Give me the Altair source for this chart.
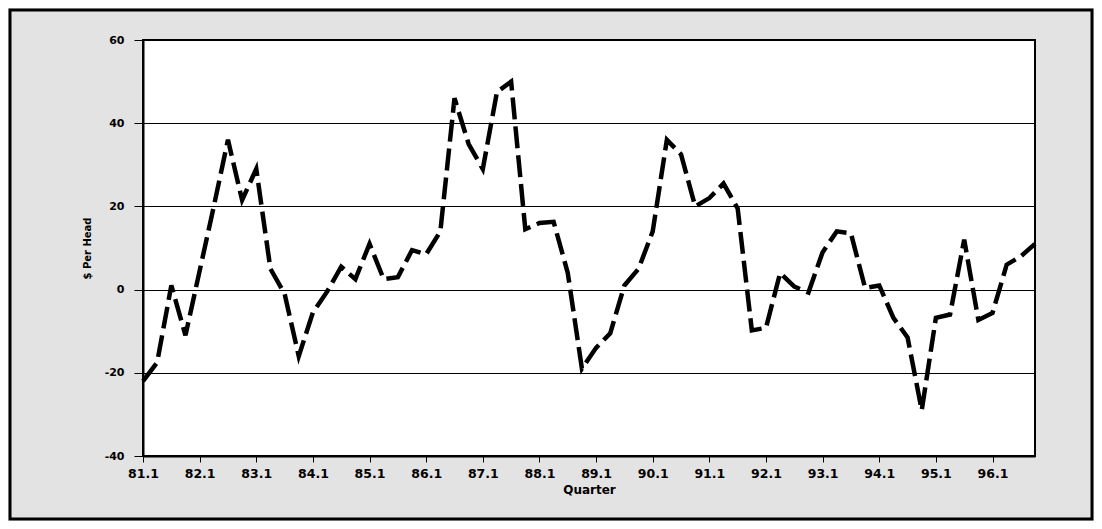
import altair as alt
import pandas as pd

# Quarter labels 81.1 .. 96.4
years = list(range(81, 97))
quarters = [f"{y}.{q}" for y in years for q in range(1, 5)]

values = [
    -22, -17.5, 1, -11, 4.5, 20, 36, 21.5,
    29, 5, -1, -16, -5.5, -0.5, 5.5, 2.5,
    11, 2.5, 3, 9.5, 8.5, 14, 46, 35,
    29, 47.5, 50, 14.5, 16, 16.3, 4, -19,
    -14, -10.5, 1, 5, 14, 36, 32.5, 20,
    22, 25.5, 19.5, -9.8, -9.2, 4, 0.7, -0.7,
    9, 14, 13.5, 0.4, 1, -6.8, -11.5, -29,
    -6.8, -6, 12, -7.3, -5.6, 6, 8, 11,
]

x_tick_labels = [f"{y}.1" for y in years]
y_ticks = [-40, -20, 0, 20, 40, 60]

df = pd.DataFrame({"Quarter": quarters, "value": values})

W, H = 892, 416
FONT = "DejaVu Sans"

line = alt.Chart(df).mark_line(
    color="black", strokeWidth=4.5, strokeDash=[22, 7]
).encode(
    x=alt.X(
        "Quarter:O",
        sort=quarters,
        scale=alt.Scale(type="point", padding=0),
        axis=alt.Axis(
            title="Quarter",
            values=x_tick_labels,
            labelAngle=0,
            labelFont=FONT,
            labelFontWeight="bold",
            labelFontSize=12.5,
            labelColor="black",
            labelPadding=5,
            tickSize=6,
            tickColor="black",
            domainColor="black",
            domainWidth=2,
            grid=False,
            titleFont=FONT,
            titleFontWeight="bold",
            titleFontSize=12,
            titleColor="black",
            titleX=W / 2,
            titleY=33,
            titleBaseline="middle",
        ),
    ),
    y=alt.Y(
        "value:Q",
        scale=alt.Scale(domain=[-40, 60], nice=False, zero=False),
        axis=alt.Axis(
            title="$ Per Head",
            values=y_ticks,
            labelExpr="'' + datum.value",
            labelFont=FONT,
            labelFontWeight="bold",
            labelFontSize=11,
            labelColor="black",
            labelPadding=10,
            tickSize=9,
            tickColor="black",
            domainColor="black",
            domainWidth=2,
            grid=True,
            gridColor="black",
            gridWidth=1,
            gridOpacity=1,
            titleFont=FONT,
            titleFontWeight="bold",
            titleFontSize=10,
            titleColor="black",
            titleAngle=-90,
            titleX=-56,
            titleY=H / 2,
            titleBaseline="middle",
            titleAlign="center",
        ),
    ),
)

frame = alt.Chart(pd.DataFrame({"a": [0]})).mark_rect(
    fill=None, stroke="black", strokeWidth=3
).encode(
    x=alt.value(-133), x2=alt.value(W + 57),
    y=alt.value(-30), y2=alt.value(H + 63),
)

chart = alt.layer(frame, line).properties(
    width=W,
    height=H,
    autosize=alt.AutoSizeParams(type="none"),
    padding={"left": 135, "top": 32, "right": 59, "bottom": 65},
    background="#e3e3e3",
).configure_view(
    fill="white", stroke="black", strokeWidth=2
)

chart.save("out.html", embed_options={"renderer": "svg", "actions": False})
